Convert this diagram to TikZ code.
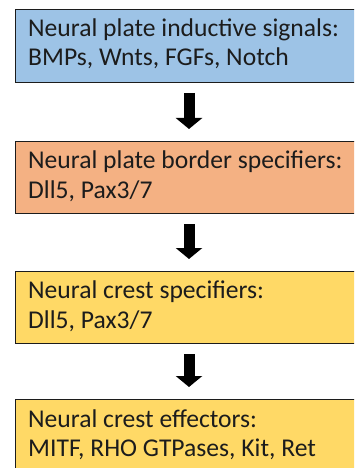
\documentclass[tikz,border=0pt]{standalone}
\usepackage{fontspec}
\setmainfont{Carlito}
\usetikzlibrary{arrows.meta}
\definecolor{boxblue}{RGB}{157,195,230}
\definecolor{boxorange}{RGB}{244,177,131}
\definecolor{boxyellow}{RGB}{255,217,102}
\definecolor{inkdark}{RGB}{28,28,28}
\begin{document}
\begin{tikzpicture}[x=1pt,y=-1pt,
  stage/.style={draw=inkdark, line width=0.9pt, anchor=north west,
    minimum width=360pt, minimum height=73pt, inner sep=0pt, outer sep=0pt},
  txt/.style={anchor=base west, inner sep=0pt, text=inkdark,
    font=\fontsize{25.6}{29}\selectfont},
  flow/.style={line width=11pt, draw=black,
    -{Triangle[width=26pt,length=11pt]}, shorten <=11pt, shorten >=12pt}]
\useasboundingbox (0,0) rectangle (354,468);
\fill[white] (0,0) rectangle (354,468);
\clip (0,0) rectangle (354,468);
\coordinate (ax) at (189,0);

% stages
\node[stage, fill=boxblue] (b1) at (15,9) {};
\node[stage, fill=boxorange, minimum height=72pt] (b2) at (15,141) {};
\node[stage, fill=boxyellow, minimum height=72pt] (b3) at (15,271) {};
\node[stage, fill=boxyellow] (b4) at (15,399) {};

% labels
\node[txt] (t1a) at (28,37) {Neural plate inductive signals:};
\node[txt] (t1b) at (28,66) {BMPs, Wnts, FGFs, Notch};
\node[txt] (t2a) at (28,168) {Neural plate border specifiers:};
\node[txt] (t2b) at (28,198) {Dll5, Pax3/7};
\node[txt] (t3a) at (28,298) {Neural crest specifiers:};
\node[txt] (t3b) at (28,328) {Dll5, Pax3/7};
\node[txt] (t4a) at (28,427) {Neural crest effectors:};
\node[txt] (t4b) at (28,456) {MITF, RHO GTPases, Kit, Ret};

% block arrows between stages
\draw[flow] (b1.south -| ax) -- (b2.north -| ax);
\draw[flow] (b2.south -| ax) -- (b3.north -| ax);
\draw[flow] (b3.south -| ax) -- (b4.north -| ax);
\end{tikzpicture}
\end{document}
